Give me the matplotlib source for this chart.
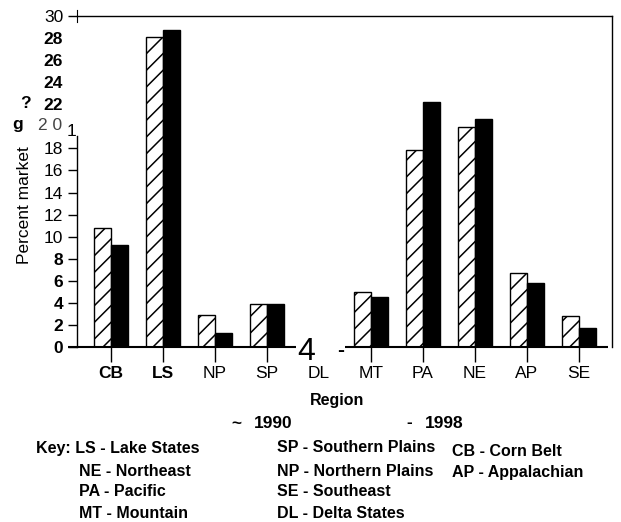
import numpy as np
import matplotlib
matplotlib.use('Agg')
import matplotlib.pyplot as plt
from matplotlib.lines import Line2D

plt.rcParams['font.family'] = ['Liberation Sans', 'DejaVu Sans']
plt.rcParams['hatch.linewidth'] = 1.1

# data
regions = ['CB', 'LS', 'NP', 'SP', 'DL', 'MT', 'PA', 'NE', 'AP', 'SE']
pct_1990 = [10.8, 28.1, 2.9, 3.9, np.nan, 5.0, 17.9, 19.9, 6.7, 2.8]
pct_1998 = [9.2, 28.7, 1.3, 3.9, np.nan, 4.5, 22.2, 20.7, 5.8, 1.7]
bold_regions = ['CB', 'LS']

ytick_vals = list(range(0, 32, 2))
ytick_text = ['0', '2', '4', '6', '8', '10', '12', '14', '16', '18',
              '', '22', '24', '26', '28', '30']

key_col1 = ['Key: LS - Lake States', 'NE - Northeast', 'PA - Pacific', 'MT - Mountain']
key_col2 = ['SP - Southern Plains', 'NP - Northern Plains', 'SE - Southeast', 'DL - Delta States']
key_col3 = ['CB - Corn Belt', 'AP - Appalachian']

W, H = 621, 522
fig = plt.figure(figsize=(W / 100, H / 100), dpi=100)

def px(x, y):
    # pixel position (from top-left) -> figure fraction
    return x / W, 1 - y / H

ax = fig.add_axes([77 / W, 1 - 347 / H, (612 - 77) / W, (347 - 16) / H])

x = np.arange(len(regions))
w = 0.33
ax.bar(x - w, pct_1990, w, align='edge', color='white', edgecolor='black',
       hatch='//', linewidth=1.0)
ax.bar(x, pct_1998, w, align='edge', color='black', edgecolor='black', linewidth=1.0)

ax.set_xlim(-0.654, 9.635)
ax.set_ylim(0, 30)

ax.set_xticks(x)
ax.set_xticklabels(regions, fontsize=12.5)
for lab, tk in zip(ax.get_xticklabels(), ax.xaxis.get_major_ticks()):
    if lab.get_text() in bold_regions:
        lab.set_fontweight('bold')
    if lab.get_text() == 'DL':
        tk.tick1line.set_visible(False)
ax.tick_params(axis='x', direction='out', length=11, width=1, pad=3)

ax.set_yticks(ytick_vals)
ax.set_yticklabels(ytick_text, fontsize=12.5)
for v, lab, tk in zip(ytick_vals, ax.get_yticklabels(), ax.yaxis.get_major_ticks()):
    if 22 <= v <= 28 or v <= 8:
        lab.set_fontweight('bold')
    if 20 <= v <= 28:
        tk.tick1line.set_visible(False)
ax.tick_params(axis='y', direction='out', length=6.5, width=1, pad=3.5)

# frame: broken left spine, full top/right, baseline broken at DL
ax.spines['left'].set_bounds(0, 19.1)
ax.spines['bottom'].set_visible(False)
for s in ['left', 'top', 'right']:
    ax.spines[s].set_linewidth(1.0)
ax.hlines([0, 0], [-0.83, 4.5], [3.56, 9.56], colors='black', lw=1.5,
          clip_on=False, zorder=4)
fig.add_artist(Line2D([77 / W, 77 / W], [1 - 10 / H, 1 - 22 / H],
                      color='black', lw=0.8, transform=fig.transFigure))

ax.set_ylabel('Percent market', fontsize=12.5)
ax.yaxis.set_label_coords(32 / W, 1 - 205 / H, transform=fig.transFigure)

# scanner/OCR leftovers around the axis
fig.text(*px(50, 126), '2 0', fontsize=12.5, color='#444444', ha='center', va='center')
fig.text(*px(71, 131), '1', fontsize=12.5, ha='center', va='center')
fig.text(*px(18, 125), 'g', fontsize=12.5, fontweight='bold', ha='center', va='center')
fig.text(*px(25, 103), '?', fontsize=12.5, fontweight='bold', ha='center', va='center')
fig.text(*px(306, 352), '4', fontsize=23, ha='center', va='center')
fig.text(*px(341, 351), '-', fontsize=15, fontweight='bold', ha='center', va='center')

fig.text(*px(337, 400), 'Region', fontsize=11.5, fontweight='bold', ha='center', va='center')
fig.text(*px(236, 424), '~', fontsize=12.5, fontweight='bold', ha='center', va='center')
fig.text(*px(273, 423), '1990', fontsize=12.5, fontweight='bold', ha='center', va='center')
fig.text(*px(409, 423), '-', fontsize=12.5, fontweight='bold', ha='center', va='center')
fig.text(*px(444, 423), '1998', fontsize=12.5, fontweight='bold', ha='center', va='center')

rows_y = [448, 471, 491, 513]
for i, t in enumerate(key_col1):
    fig.text(*px(36 if i == 0 else 79, rows_y[i]), t, fontsize=11.5,
             fontweight='bold', va='center')
for i, t in enumerate(key_col2):
    fig.text(*px(277, rows_y[i]), t, fontsize=11.5, fontweight='bold', va='center')
for i, t in enumerate(key_col3):
    fig.text(*px(452, [452, 473][i]), t, fontsize=11.5, fontweight='bold', va='center')

fig.savefig('out.png', dpi=100)
